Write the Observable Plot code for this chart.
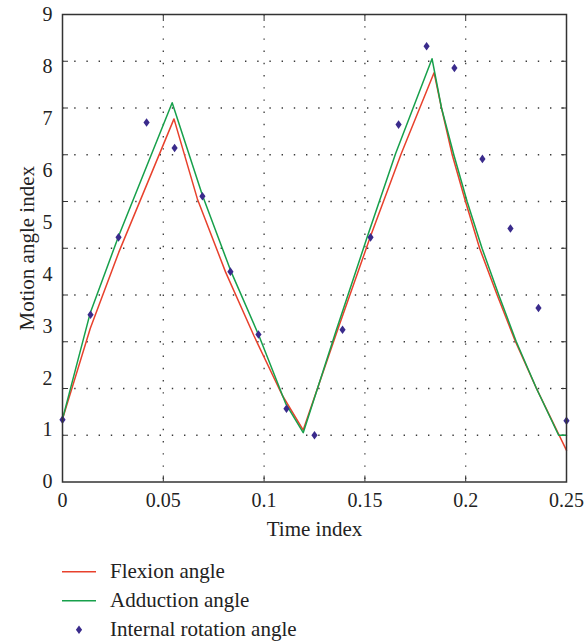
<!DOCTYPE html>
<html>
<head>
<meta charset="utf-8">
<script src="https://cdn.jsdelivr.net/npm/d3@7"></script>
<script src="https://cdn.jsdelivr.net/npm/@observablehq/plot@0.6"></script>
<style>
  html, body { margin: 0; padding: 0; background: #fff; }
  #chart svg { display: block; }
  #legend { display: block; }
</style>
</head>
<body>
<div id="chart"></div>
<div id="legend"></div>
<script>
// ---- data ----
const xTitle = "Time index";
const yTitle = "Motion angle index";
const seriesNames = ["Flexion angle", "Adduction angle", "Internal rotation angle"];
const seriesColors = ["#e8412c", "#17a04b", "#3a2b8c"];

const xTicks = [0, 0.05, 0.1, 0.15, 0.2, 0.25];
const xTickLabels = ["0", "0.05", "0.1", "0.15", "0.2", "0.25"];
const xGrid = [0.05, 0.1, 0.15, 0.2];
const yLabelVals = [0, 1, 2, 3, 4, 5, 6, 7, 8, 9];
const yTickLabels = ["0", "1", "2", "3", "4", "5", "6", "7", "8", "9"];
const yGrid = [0.9, 1.8, 2.7, 3.6, 4.5, 5.4, 6.3, 7.2, 8.1];

const flexT = [0, 0.0138, 0.0279, 0.0553, 0.0669, 0.0809, 0.0949, 0.1090, 0.1194, 0.1364, 0.1526, 0.1680, 0.1843, 0.1880, 0.1933, 0.1999, 0.2069, 0.2156, 0.2246, 0.2350, 0.25];
const flexV = [1.21, 2.96, 4.42, 6.99, 5.45, 4.04, 2.82, 1.67, 1.00, 2.92, 4.71, 6.32, 7.88, 7.20, 6.30, 5.40, 4.50, 3.60, 2.71, 1.81, 0.61];

const addT = [0, 0.0138, 0.0279, 0.0544, 0.0694, 0.0834, 0.0974, 0.1107, 0.1194, 0.1358, 0.1511, 0.1652, 0.1833, 0.1880, 0.1941, 0.2007, 0.2081, 0.2164, 0.2250, 0.2350, 0.2461, 0.25];
const addV = [1.21, 3.26, 4.74, 7.30, 5.52, 4.07, 2.82, 1.51, 0.95, 2.92, 4.71, 6.32, 8.15, 7.20, 6.30, 5.40, 4.50, 3.60, 2.71, 1.81, 0.90, 0.90];

const rotT = [0, 0.0139, 0.0278, 0.0417, 0.0556, 0.0694, 0.0833, 0.0972, 0.1111, 0.125, 0.1389, 0.1528, 0.1667, 0.1806, 0.1944, 0.2083, 0.2222, 0.2361, 0.25];
const rotV = [1.20, 3.22, 4.71, 6.92, 6.43, 5.50, 4.05, 2.84, 1.41, 0.90, 2.93, 4.71, 6.88, 8.39, 7.97, 6.22, 4.88, 3.35, 1.18];

// ---- build tables ----
const flexion = flexT.map((t, i) => ({t, v: flexV[i]}));
const adduction = addT.map((t, i) => ({t, v: addV[i]}));
const rotation = rotT.map((t, i) => ({t, v: rotV[i]}));

const tallDiamond = {
  draw(ctx, size) {
    const r = Math.sqrt(size / Math.PI);
    const w = r * 0.72;
    ctx.moveTo(0, -r);
    ctx.lineTo(w, 0);
    ctx.lineTo(0, r);
    ctx.lineTo(-w, 0);
    ctx.closePath();
  }
};

const font = "'Liberation Serif', 'Times New Roman', serif";
const gridStyle = {stroke: "#3a3a3a", strokeWidth: 1.3, strokeDasharray: "1.4,10.8"};

const chart = Plot.plot({
  width: 584,
  height: 550,
  marginLeft: 62,
  marginRight: 18,
  marginTop: 14,
  marginBottom: 68.5,
  x: {domain: [0, 0.25]},
  y: {domain: [0, 9]},
  style: {fontFamily: font, fontSize: "20px", color: "#222", background: "#fff"},
  marks: [
    Plot.ruleX(xGrid, gridStyle),
    Plot.ruleY(yGrid, gridStyle),
    Plot.axisX({ticks: xTicks, tickSize: -6, tickFormat: () => "", label: null, stroke: "#333"}),
    Plot.axisX({anchor: "top", ticks: xTicks, tickSize: -6, tickFormat: () => "", label: null, stroke: "#333"}),
    Plot.axisX({ticks: xTicks, tickSize: 0, tickPadding: 11, tickFormat: d => xTickLabels[xTicks.indexOf(d)], label: null, fill: "#222"}),
    Plot.axisY({ticks: yGrid, tickSize: -6, tickFormat: () => "", label: null, stroke: "#333"}),
    Plot.axisY({anchor: "right", ticks: yGrid, tickSize: -6, tickFormat: () => "", label: null, stroke: "#333"}),
    Plot.axisY({ticks: yLabelVals, tickSize: 0, tickPadding: 10, tickFormat: d => yTickLabels[yLabelVals.indexOf(d)], label: null, fill: "#222"}),
    Plot.line(flexion, {x: "t", y: "v", stroke: seriesColors[0], strokeWidth: 1.5}),
    Plot.line(adduction, {x: "t", y: "v", stroke: seriesColors[1], strokeWidth: 1.5}),
    Plot.dot(rotation, {x: "t", y: "v", symbol: tallDiamond, r: 4.3, fill: seriesColors[2], stroke: "none"}),
    Plot.frame({stroke: "#333", strokeWidth: 1.5}),
    Plot.text([xTitle], {frameAnchor: "bottom", dy: 47, text: d => d, fontSize: 21, fill: "#222", lineAnchor: "middle", textAnchor: "middle"}),
    Plot.text([yTitle], {frameAnchor: "left", dx: -35, rotate: -90, text: d => d, fontSize: 21, fill: "#222", lineAnchor: "middle", textAnchor: "middle"})
  ]
});
document.getElementById("chart").appendChild(chart);

// ---- legend ----
const lg = d3.select("#legend").append("svg")
  .attr("width", 584).attr("height", 93)
  .style("font-family", font).style("font-size", "21px");
const rowsY = [21.7, 50.7, 79.7];
seriesNames.forEach((name, i) => {
  const g = lg.append("g");
  if (i < 2) {
    g.append("line").attr("x1", 62).attr("x2", 96).attr("y1", rowsY[i]).attr("y2", rowsY[i])
      .attr("stroke", seriesColors[i]).attr("stroke-width", 1.5);
  } else {
    g.append("path").attr("transform", `translate(79,${rowsY[i]})`)
      .attr("d", d3.symbol(tallDiamond, Math.PI * 4.3 * 4.3)()).attr("fill", seriesColors[i]);
  }
  g.append("text").attr("x", 110).attr("y", rowsY[i]).attr("dy", "0.32em")
    .attr("fill", "#222").text(name);
});
</script>
</body>
</html>
